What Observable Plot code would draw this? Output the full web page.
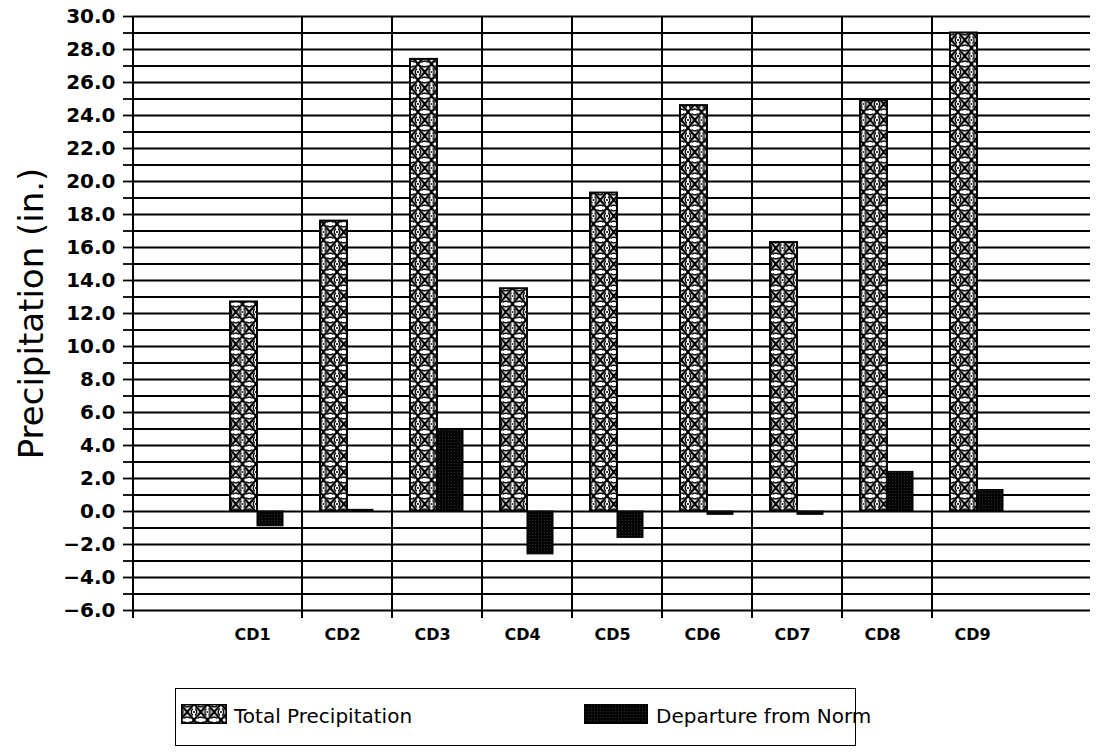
<!DOCTYPE html>
<html>
<head>
<meta charset="utf-8">
<script src="https://cdn.jsdelivr.net/npm/d3@7"></script>
<script src="https://cdn.jsdelivr.net/npm/@observablehq/plot@0.6"></script>
<style>
  html, body { margin: 0; padding: 0; background: #fff; }
  #wrap { position: relative; width: 1096px; height: 752px; overflow: hidden; font-family: "DejaVu Sans", sans-serif; }
  #legend { position: absolute; left: 175px; top: 688px; width: 681px; height: 58px; border: 1.5px solid #000; box-sizing: border-box; }
  .sw { position: absolute; top: 15px; }
  .lt { position: absolute; top: 15px; font-size: 20px; color: #000; white-space: nowrap; }
</style>
</head>
<body>
<div id="wrap">
  <div id="chart"></div>
  <div id="legend"></div>
</div>
<script>
const categories = ["CD1", "CD2", "CD3", "CD4", "CD5", "CD6", "CD7", "CD8", "CD9"];
const totalPrecip = [12.7, 17.6, 27.4, 13.5, 19.3, 24.6, 16.3, 24.9, 29.0];
const departure = [-0.9, 0.1, 5.0, -2.6, -1.6, -0.2, -0.2, 2.4, 1.3];
const seriesNames = ["Total Precipitation", "Departure from Norm"];
const yMin = -6, yMax = 30;

const totalRows = categories.map((c, i) => ({cd: c, value: totalPrecip[i]}));
const depRows = categories.map((c, i) => ({cd: c, value: departure[i]}));

function makeDefs() {
  const defs = d3.create("svg:defs");
  const h = defs.append("pattern").attr("id", "hatch").attr("patternUnits", "userSpaceOnUse")
    .attr("width", 13.5).attr("height", 16).attr("x", 229);
  h.append("rect").attr("width", 13.5).attr("height", 16).attr("fill", "#fff");
  h.append("path").attr("d", "M0,0L13.5,16M13.5,0L0,16").attr("stroke", "#000").attr("stroke-width", 2.2);
  h.append("path").attr("d", "M3.5,1.5Q6.75,4.5 10,1.5M3.5,14.5Q6.75,11.5 10,14.5M1.2,4.5Q4.2,8 1.2,11.5M12.3,4.5Q9.3,8 12.3,11.5")
    .attr("stroke", "#000").attr("stroke-width", 1.4).attr("fill", "none");
  h.append("circle").attr("cx", 6.75).attr("cy", 8).attr("r", 1.6).attr("fill", "#000");
  h.append("circle").attr("cx", 0).attr("cy", 8).attr("r", 1).attr("fill", "#000");
  h.append("circle").attr("cx", 13.5).attr("cy", 8).attr("r", 1).attr("fill", "#000");
  const d = defs.append("pattern").attr("id", "dark").attr("patternUnits", "userSpaceOnUse")
    .attr("width", 3).attr("height", 3);
  d.append("rect").attr("width", 3).attr("height", 3).attr("fill", "#050505");
  d.append("rect").attr("x", 1).attr("y", 1).attr("width", 0.7).attr("height", 0.7).attr("fill", "#555");
  return defs.node();
}

const H = 660;
const plot = Plot.plot({
  width: 1096,
  height: H,
  marginLeft: 133,
  marginTop: 16,
  marginBottom: H - 610,
  marginRight: 6,
  style: {background: "#fff", color: "#000", fontFamily: "DejaVu Sans, sans-serif"},
  x: {domain: categories, range: [211, 1023], padding: 0, label: null},
  y: {domain: [yMin, yMax], label: null},
  marks: [
    () => makeDefs(),
    Plot.ruleY(d3.range(yMin, yMax + 1, 1), {stroke: "#000", strokeWidth: 1.8}),
    (index, scales, values, dim) => {
      const g = d3.create("svg:g");
      const x = scales.x, y = scales.y;
      categories.slice(1).forEach(c => {
        g.append("line").attr("x1", x(c)).attr("x2", x(c))
          .attr("y1", y(yMax)).attr("y2", y(yMin) + 8)
          .attr("stroke", "#000").attr("stroke-width", 2);
      });
      g.append("line").attr("x1", dim.marginLeft).attr("x2", dim.marginLeft)
        .attr("y1", y(yMax)).attr("y2", y(yMin) + 8)
        .attr("stroke", "#000").attr("stroke-width", 2);
      return g.node();
    },
    Plot.barY(totalRows, {x: "cd", y: "value", fill: "url(#hatch)", stroke: "#000", strokeWidth: 2, insetLeft: 18, insetRight: 45}),
    Plot.barY(depRows, {x: "cd", y: "value", fill: "url(#dark)", stroke: "#000", strokeWidth: 1, insetLeft: 45, insetRight: 19}),
    Plot.axisY({ticks: d3.range(yMin, yMax + 1, 1), tickSize: 10, tickPadding: 8,
      tickFormat: v => (v % 2 === 0 ? d3.format(".1f")(v) : ""), fontSize: 20, fontWeight: "bold", strokeWidth: 1.8}),
    Plot.axisX({tickSize: 0, tickPadding: 18, fontSize: 16, fontWeight: "bold", dx: -5}),
    Plot.text(["Precipitation (in.)"], {frameAnchor: "left", textAnchor: "middle", rotate: -90, dx: -101, fontSize: 34, fill: "#000"})
  ]
});
document.getElementById("chart").appendChild(plot);

// legend
const legend = document.getElementById("legend");
function swatch(fillId, left, w) {
  const s = d3.create("svg").attr("width", w).attr("height", 20).attr("class", "sw").style("left", left + "px");
  s.append(() => makeDefs());
  s.append("rect").attr("x", 0.75).attr("y", 0.75).attr("width", w - 1.5).attr("height", 18.5)
    .attr("fill", `url(#${fillId})`).attr("stroke", "#000").attr("stroke-width", 1.5);
  legend.appendChild(s.node());
}
swatch("hatch", 5, 46);
swatch("dark", 408, 64);
const t1 = document.createElement("div"); t1.className = "lt"; t1.style.left = "58px"; t1.textContent = seriesNames[0]; legend.appendChild(t1);
const t2 = document.createElement("div"); t2.className = "lt"; t2.style.left = "480px"; t2.textContent = seriesNames[1]; legend.appendChild(t2);
</script>
</body>
</html>
